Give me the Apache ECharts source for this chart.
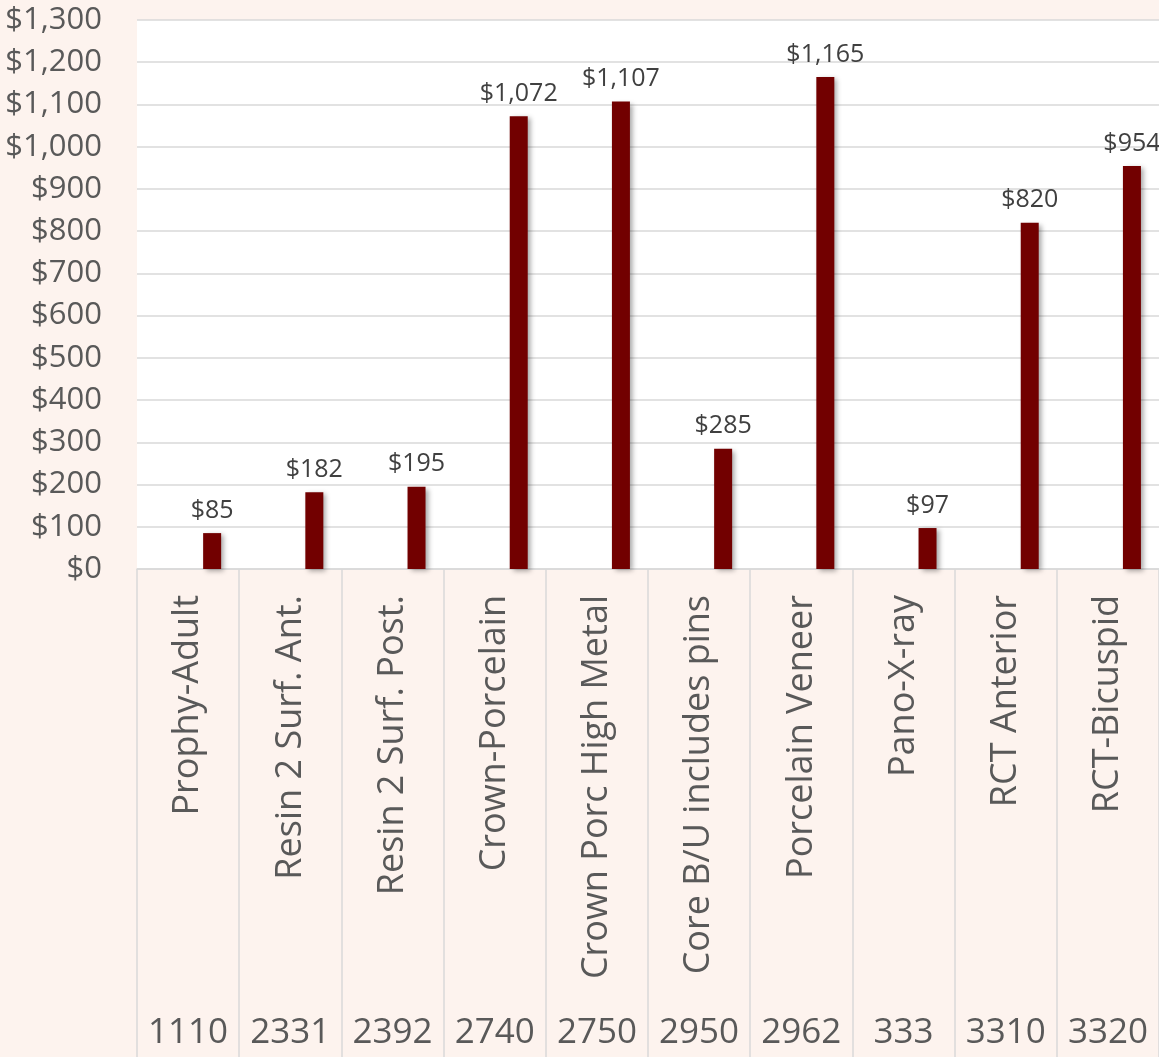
<!DOCTYPE html>
<html>
<head>
<meta charset="utf-8">
<script src="https://cdn.jsdelivr.net/npm/echarts@6/dist/echarts.min.js"></script>
<style>
html,body{margin:0;padding:0;background:#fdf3ee;}
#chart{width:1159px;height:1057px;}
</style>
</head>
<body>
<div id="chart"></div>
<script>
const procedures = ["Prophy-Adult", "Resin 2 Surf. Ant.", "Resin 2 Surf. Post.", "Crown-Porcelain", "Crown Porc High Metal", "Core B/U includes pins", "Porcelain Veneer", "Pano-X-ray", "RCT Anterior", "RCT-Bicuspid"];
const codes = ["1110", "2331", "2392", "2740", "2750", "2950", "2962", "333", "3310", "3320"];
const fees = [85, 182, 195, 1072, 1107, 285, 1165, 97, 820, 954];
const yTicks = {min: 0, max: 1300, interval: 100};

const money = v => '$' + Number(v).toLocaleString('en-US');
const FONT = '"Open Sans", "Liberation Sans", sans-serif';

const chart = echarts.init(document.getElementById('chart'), null, {renderer: 'canvas'});
chart.setOption({
  backgroundColor: '#fdf3ee',
  animation: false,
  textStyle: {fontFamily: FONT},
  grid: {left: 137, right: 0, top: 20, bottom: 488, show: true, backgroundColor: '#ffffff', borderWidth: 0, containLabel: false},
  xAxis: [
    {
      type: 'category',
      data: procedures,
      position: 'bottom',
      axisLine: {show: true, lineStyle: {color: '#d9d9d9', width: 1.5}},
      axisTick: {show: true, length: 488, interval: 0, lineStyle: {color: '#d9d9d9', width: 1.5}},
      axisLabel: {interval: 0, rotate: 90, margin: 26, fontSize: 36, color: '#595959', fontFamily: FONT}
    },
    {
      type: 'category',
      data: codes,
      position: 'bottom',
      axisLine: {show: false},
      axisTick: {show: false},
      axisLabel: {interval: 0, margin: 447, fontSize: 35, color: '#595959', fontFamily: FONT}
    }
  ],
  yAxis: {
    type: 'value',
    min: yTicks.min, max: yTicks.max, interval: yTicks.interval,
    axisLine: {show: false},
    axisTick: {show: false},
    splitLine: {lineStyle: {color: '#d9d9d9', width: 1.5}},
    axisLabel: {margin: 35, fontSize: 31, color: '#595959', fontFamily: FONT, formatter: money}
  },
  series: [
    {
      type: 'bar',
      name: 'spacer',
      data: [],
      barWidth: 18,
      barGap: '167%'
    },
    {
      type: 'bar',
      name: 'Fee',
      data: fees,
      barWidth: 18,
      barGap: '167%',
      itemStyle: {color: '#720000', shadowColor: 'rgba(0,0,0,0.35)', shadowBlur: 5, shadowOffsetX: 3, shadowOffsetY: 2},
      label: {show: true, position: 'top', distance: 10, fontSize: 25, color: '#404040', fontFamily: FONT, formatter: p => money(p.value)}
    }
  ]
});
</script>
</body>
</html>
